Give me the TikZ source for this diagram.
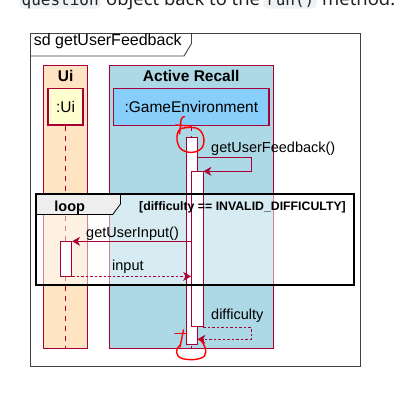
\documentclass[tikz,border=0pt]{standalone}
\usepackage{fontspec}
\setmainfont{Liberation Sans}
\newfontfamily\pagefont{Noto Sans}
\newfontfamily\codefont{DejaVu Sans Mono}
\usetikzlibrary{arrows.meta}
\definecolor{umlred}{HTML}{A80036}
\definecolor{uibg}{HTML}{FFE4C4}
\definecolor{recallbg}{HTML}{ADD8E6}
\definecolor{uihead}{HTML}{FEFECE}
\definecolor{gehead}{HTML}{87CEFA}
\definecolor{tabgray}{HTML}{EEEEEE}
\definecolor{codebg}{HTML}{EFF1F3}
\definecolor{pagetext}{HTML}{1F2328}
\begin{document}
\begin{tikzpicture}[x=1pt,y=-1pt,
  msg/.style={font=\fontsize{14.5}{16}\selectfont,anchor=base west,inner sep=0},
  boxtitle/.style={font=\bfseries\fontsize{15.5}{17}\selectfont,anchor=base,inner sep=0},
  head/.style={draw=umlred,line width=1.3pt,inner sep=0,font=\fontsize{15.5}{17}\selectfont},
  bar/.style={draw=umlred,fill=white,line width=0.8pt,inner sep=0},
  lifeline/.style={umlred,dash pattern=on 5pt off 5pt,line width=0.8pt},
  call/.style={umlred,line width=0.8pt,-{Stealth[length=8pt,width=9pt,inset=2.5pt]}},
  reply/.style={call,dash pattern=on 2.5pt off 2pt},
  codeword/.style={anchor=base west,inner sep=0,text=pagetext,font=\codefont\fontsize{16}{18}\selectfont},
  pageword/.style={anchor=base west,inner sep=0,text=pagetext,font=\pagefont\fontsize{18.4}{20}\selectfont},
  scribble/.style={red,line width=1.4pt,line cap=round,line join=round}]
  \useasboundingbox[fill=white] (0,0) rectangle (414,400);

  \fill[codebg,rounded corners=4pt] (19.3,-16) rectangle (100.7,8.5);
  \fill[codebg,rounded corners=4pt] (263.3,-16) rectangle (316.7,8.5);
  \node[codeword] (wq) at (21.5,5) {question};
  \node[pageword] (wo) at (106,5) {object back to the};
  \node[codeword] (wr) at (266,5) {run()};
  \node[pageword] (wm) at (322,5) {method.};

  \draw[black!75,line width=0.9pt] (30,33) rectangle (360.5,366.5);
  \draw[black!75,line width=0.9pt] (30,56) -- (184,56) -- (191.5,43.5) -- (191.5,33);
  \node[anchor=base west,inner sep=0,font=\fontsize{16}{18}\selectfont] (sd) at (33.7,45.5) {sd getUserFeedback};

  \filldraw[fill=uibg,draw=umlred,line width=0.8pt] (43.7,65) rectangle (87.7,348.7);
  \filldraw[fill=recallbg,draw=umlred,line width=0.8pt] (109.3,65) rectangle (273,348.7);
  \node[boxtitle] (uititle) at (65.7,81) {Ui};
  \node[boxtitle] (artitle) at (191.2,81) {Active Recall};

  \node[head,fill=uihead,minimum width=35pt,minimum height=36.3pt] (ui) at (65.5,106.85) {:Ui};
  \node[head,fill=gehead,minimum width=155.3pt,minimum height=36.6pt] (ge) at (191.35,107) {:GameEnvironment};
  \coordinate (uiend) at (65.7,348.7);
  \coordinate (geend) at (191,348.7);
  \draw[lifeline] (ui.south) -- (ui.south |- uiend);
  \draw[lifeline] (ge.south -| geend) -- (geend);

  \fill[white,opacity=0.5] (36.3,194) rectangle (353.7,284.7);

  \node[bar,minimum width=11pt,minimum height=206.3pt] (bar1) at (191.5,240.85) {};
  \node[bar,minimum width=11.5pt,minimum height=155pt] (bar2) at (197.25,249.2) {};
  \node[bar,minimum width=11.7pt,minimum height=34.3pt] (uibar) at (65.85,258.85) {};

  \coordinate (fb) at (251,157.3);
  \draw[call] (bar1.east |- fb) -- (fb) -- (fb |- bar2.north) -- (bar2.north east);
  \node[msg] (fblabel) at (211,152) {getUserFeedback()};

  \draw[call] (bar2.west |- uibar.north) -- (uibar.north east);
  \node[msg] (inlabel) at (86,237.3) {getUserInput()};
  \draw[reply] (uibar.south east) -- (bar2.west |- uibar.south);
  \node[msg] (retlabel) at (112,270.5) {input};

  \coordinate (df) at (251,339.3);
  \draw[reply] (bar2.south east) -- (bar2.south east -| df) -- (df) -- (bar1.east |- df);
  \node[msg] (dflabel) at (211,319) {difficulty};

  \filldraw[fill=tabgray,draw=black,line width=0.8pt] (36.3,194) -- (120.5,194) -- (120.5,204) -- (112.7,214.5) -- (36.3,214.5) -- cycle;
  \draw[line width=1.8pt] (36.3,194) rectangle (353.7,284.7);
  \node[font=\bfseries\fontsize{14.5}{16}\selectfont,anchor=base,inner sep=0] (loop) at (69.7,211.5) {loop};
  \node[font=\bfseries\fontsize{12.3}{14}\selectfont,anchor=base east,inner sep=0] (guard) at (346,210) {[difficulty == INVALID\_DIFFICULTY]};

  \draw[scribble] (184.5,116.5) .. controls (181,117) and (180.5,121) .. (180.5,126) -- (179.5,134);
  \draw[scribble] (175.5,125) -- (191,126);
  \draw[scribble] (181,128.5) .. controls (176,131) and (175.5,142) .. (180,148)
    .. controls (185,154) and (198,154) .. (202.5,147)
    .. controls (206,140) and (203,130) .. (196,128)
    .. controls (191,127) and (185,127.5) .. (181,128.5);
  \draw[scribble] (175,333.3) -- (186.7,333.3);
  \draw[scribble] (183.5,330) -- (180,347);
  \draw[scribble] (180,345) .. controls (175,349) and (175,356) .. (182,358.5)
    .. controls (190,360.5) and (200,360) .. (204.5,356)
    .. controls (208,351) and (204,343) .. (199.5,339);
\end{tikzpicture}
\end{document}
